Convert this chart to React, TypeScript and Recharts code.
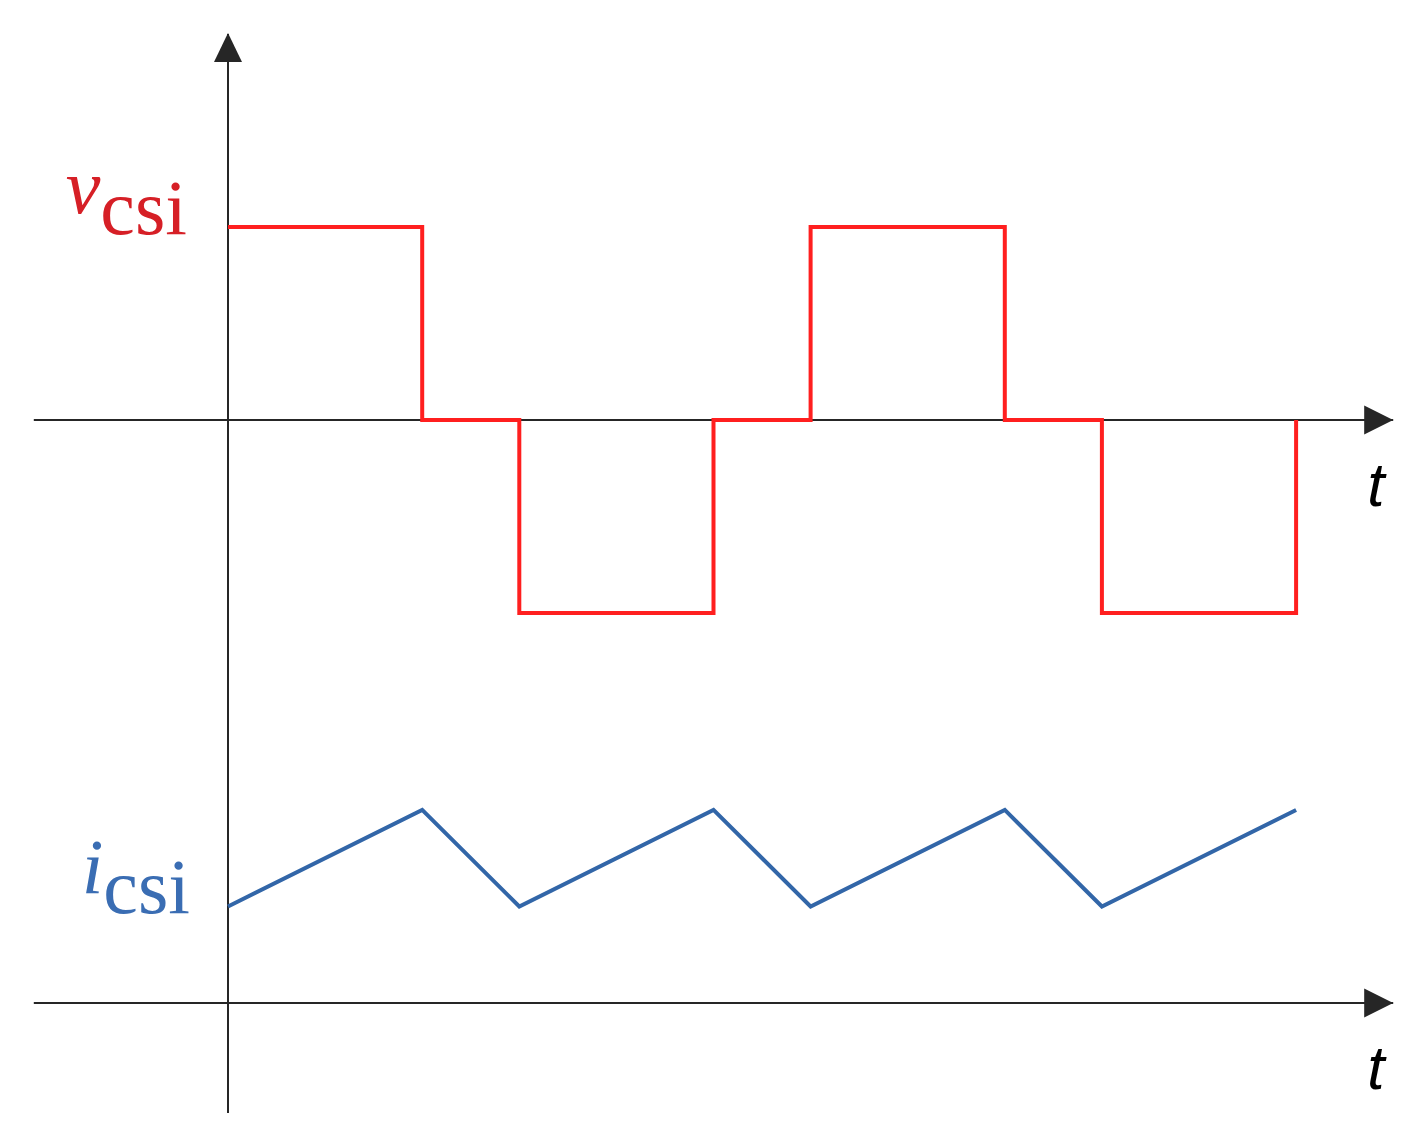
import { ComposedChart, Line, XAxis, YAxis, ReferenceLine, ReferenceDot } from "recharts";

// switching instants (time units), shared by both waveforms
const switchTimes = [0, 2, 3, 5, 6, 8, 9, 11];
// three-level CSI voltage, normalised
const vcsiLevels = [1, 0, -1, 0, 1, 0, -1, 0];
// CSI current ripple, normalised
const icsiValues = [0.5, 1, 0.5, 1, 0.5, 1, 0.5, 1];

const timeDomain: [number, number] = [-2, 12];
const vDomain: [number, number] = [-3.59, 2];
const iDomain: [number, number] = [-0.57, 5.02];

const data = switchTimes.map((t, k) => ({ t, v: vcsiLevels[k], i: icsiValues[k] }));

const AXIS = "#262626";
const RED = "#ff1f1f";
const BLUE = "#3266a8";

const RightArrow = ({ cx, cy }: any) => (
  <g>
    <polygon points={`${cx - 29},${cy - 14.5} ${cx},${cy} ${cx - 29},${cy + 14.5}`} fill={AXIS} />
    <text x={cx - 26} y={cy + 86} fontFamily="Liberation Sans" fontStyle="italic" fontSize={62} fill="#000">
      t
    </text>
  </g>
);

const UpArrow = ({ cx, cy }: any) => (
  <polygon points={`${cx - 14},${cy + 28} ${cx},${cy - 1} ${cx + 14},${cy + 28}`} fill={AXIS} />
);

function SymbolLabel(props: any) {
  const { cx, cy, sym, color, symDy, subDy, right } = props;
  return (
    <text
      x={cx - right}
      y={cy + symDy}
      textAnchor="end"
      fontFamily="Liberation Serif"
      fontSize={78}
      fill={color}
    >
      <tspan fontStyle="italic">{sym}</tspan>
      <tspan dy={subDy - symDy}>csi</tspan>
    </text>
  );
}

export default function App() {
  return (
    <ComposedChart
      width={1410}
      height={1126}
      data={data}
      margin={{ top: 26, right: 24.8, bottom: 21, left: 25.8 }}
    >
      <XAxis dataKey="t" type="number" domain={timeDomain} hide />
      <YAxis yAxisId="v" domain={vDomain} hide allowDataOverflow />
      <YAxis yAxisId="i" domain={iDomain} hide allowDataOverflow />

      <ReferenceLine yAxisId="v" y={0} stroke={AXIS} strokeWidth={2} />
      <ReferenceLine yAxisId="i" y={0} stroke={AXIS} strokeWidth={2} />
      <ReferenceLine yAxisId="v" x={0} stroke={AXIS} strokeWidth={2} />

      <Line
        yAxisId="v"
        dataKey="v"
        type="stepAfter"
        stroke={RED}
        strokeWidth={4}
        dot={false}
        isAnimationActive={false}
      />
      <Line
        yAxisId="i"
        dataKey="i"
        type="linear"
        stroke={BLUE}
        strokeWidth={4}
        dot={false}
        isAnimationActive={false}
      />

      <ReferenceDot yAxisId="v" x={12} y={0} shape={RightArrow} ifOverflow="visible" />
      <ReferenceDot yAxisId="i" x={12} y={0} shape={RightArrow} ifOverflow="visible" />
      <ReferenceDot yAxisId="v" x={0} y={2} shape={UpArrow} ifOverflow="visible" />

      <ReferenceDot
        yAxisId="v"
        x={0}
        y={1}
        ifOverflow="visible"
        shape={(p: any) => (
          <SymbolLabel cx={p.cx} cy={p.cy} sym="v" color="#d61f26" symDy={-14} subDy={7} right={41} />
        )}
      />
      <ReferenceDot
        yAxisId="i"
        x={0}
        y={0.5}
        ifOverflow="visible"
        shape={(p: any) => (
          <SymbolLabel cx={p.cx} cy={p.cy} sym="i" color="#3a6db3" symDy={-13} subDy={7} right={38} />
        )}
      />
    </ComposedChart>
  );
}
